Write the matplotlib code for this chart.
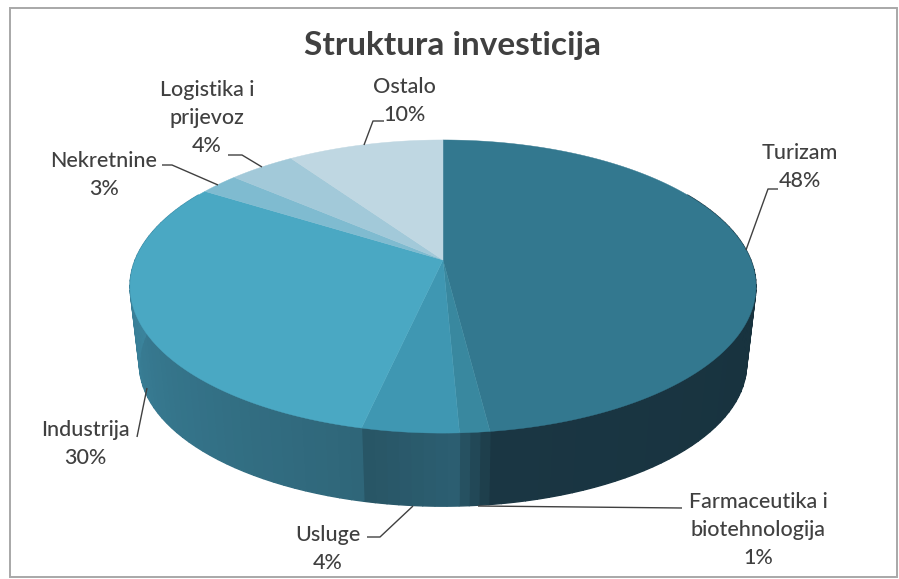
import numpy as np
import matplotlib
matplotlib.use("Agg")
import matplotlib.pyplot as plt
from matplotlib.colors import to_rgb
from matplotlib.patches import Rectangle

categories = ["Turizam", "Farmaceutika i\nbiotehnologija", "Usluge", "Industrija",
              "Nekretnine", "Logistika i\nprijevoz", "Ostalo"]
percent_labels = ["48%", "1%", "4%", "30%", "3%", "4%", "10%"]
values = [48, 1.3, 4.2, 30.4, 2.4, 4.1, 9.6]

top_colors = ["#33788f", "#39889f", "#3f97b2", "#4aa8c3", "#7fbbd0", "#a2c9d9", "#bfd7e2"]
side_start = ["#16303b", "#1c3a47", "#2c5f72", "#2f6679", "#4a9ab5", "#4a9ab5", "#4a9ab5"]
side_end = ["#1a3643", "#285566", "#285565", "#3f8ea9", "#4a9ab5", "#4a9ab5", "#4a9ab5"]

label_xy = [(800, 167), (758, 530), (328, 549), (85, 444), (104, 175), (207, 118), (404, 101)]
leaders = [
    [(746, 250), (768, 189), (778, 189)],
    [(478, 506), (682, 508)],
    [(413, 506), (380, 537), (367, 537)],
    [(147, 388), (137, 437)],
    [(218, 185), (172, 165), (162, 165)],
    [(262, 167), (242, 155), (228, 155)],
    [(364, 145), (373, 121), (384, 121)],
]

TEXT = "#404040"
CX, APEX_Y = 443.0, 260.0
C = -0.181
A = 94.7
R = 307.8
BASE_S, BASE_Y, RIM_Y = 0.97, 364.0, 286.5


def rim(deg):
    t = np.radians(deg)
    u, v = np.sin(t), -np.cos(t)
    d = 1 + C * v
    return CX + R * u / d, (A * v + APEX_Y) / d


def base(deg):
    x, y = rim(deg)
    return CX + (x - CX) * BASE_S, BASE_Y + (y - RIM_Y) * BASE_S


fig = plt.figure(figsize=(8.99, 5.79), dpi=100, facecolor="white")
ax = fig.add_axes([0, 0, 1, 1])
ax.set_xlim(0, 899)
ax.set_ylim(579, 0)
ax.axis("off")

ax.add_patch(Rectangle((10, 7.5), 887, 569.5, fc="white", ec="#a8a8a8", lw=1.4))

edges = np.concatenate([[0], np.cumsum(values)]) / np.sum(values) * 360.0

# side wall, each slice in narrow strips for its shading
for i in range(len(values)):
    a0, a1 = edges[i], edges[i + 1]
    lo, hi = max(a0, 60.0), min(a1, 300.0)
    if hi <= lo:
        continue
    n = max(2, int((hi - lo) / 2) + 1)
    grid = np.linspace(lo, hi, n + 1)
    c0, c1 = np.array(to_rgb(side_start[i])), np.array(to_rgb(side_end[i]))
    for k in range(n):
        f = (k + 0.5) / n
        col = c0 + (c1 - c0) * f
        s = np.linspace(grid[k], grid[k + 1], 6)
        xt, yt = rim(s)
        xb, yb = base(s)
        ax.fill(np.r_[xt, xb[::-1]], np.r_[yt, yb[::-1]], fc=col, ec=col, lw=1.0, zorder=2)

# top face
for i in range(len(values)):
    s = np.linspace(edges[i], edges[i + 1], max(3, int(edges[i + 1] - edges[i]) * 2))
    x, y = rim(s)
    ax.fill(np.r_[CX, x], np.r_[APEX_Y, y], color=top_colors[i], lw=0.3, zorder=3)

# leaders and labels
for i, cat in enumerate(categories):
    xs, ys = zip(*leaders[i])
    ax.plot(xs, ys, color="#404040", lw=1.0, zorder=4, solid_capstyle="butt")
    ax.text(label_xy[i][0], label_xy[i][1], f"{cat}\n{percent_labels[i]}", ha="center", va="center",
            color=TEXT, fontsize=15.5, linespacing=1.52, fontweight=500,
            family=["Lato", "DejaVu Sans"], zorder=5)

ax.text(452, 46, "Struktura investicija", ha="center", va="center", color=TEXT,
        fontsize=24, fontweight="bold", family=["Lato", "DejaVu Sans"], zorder=5)

fig.savefig("out.png", dpi=100, facecolor="white")
